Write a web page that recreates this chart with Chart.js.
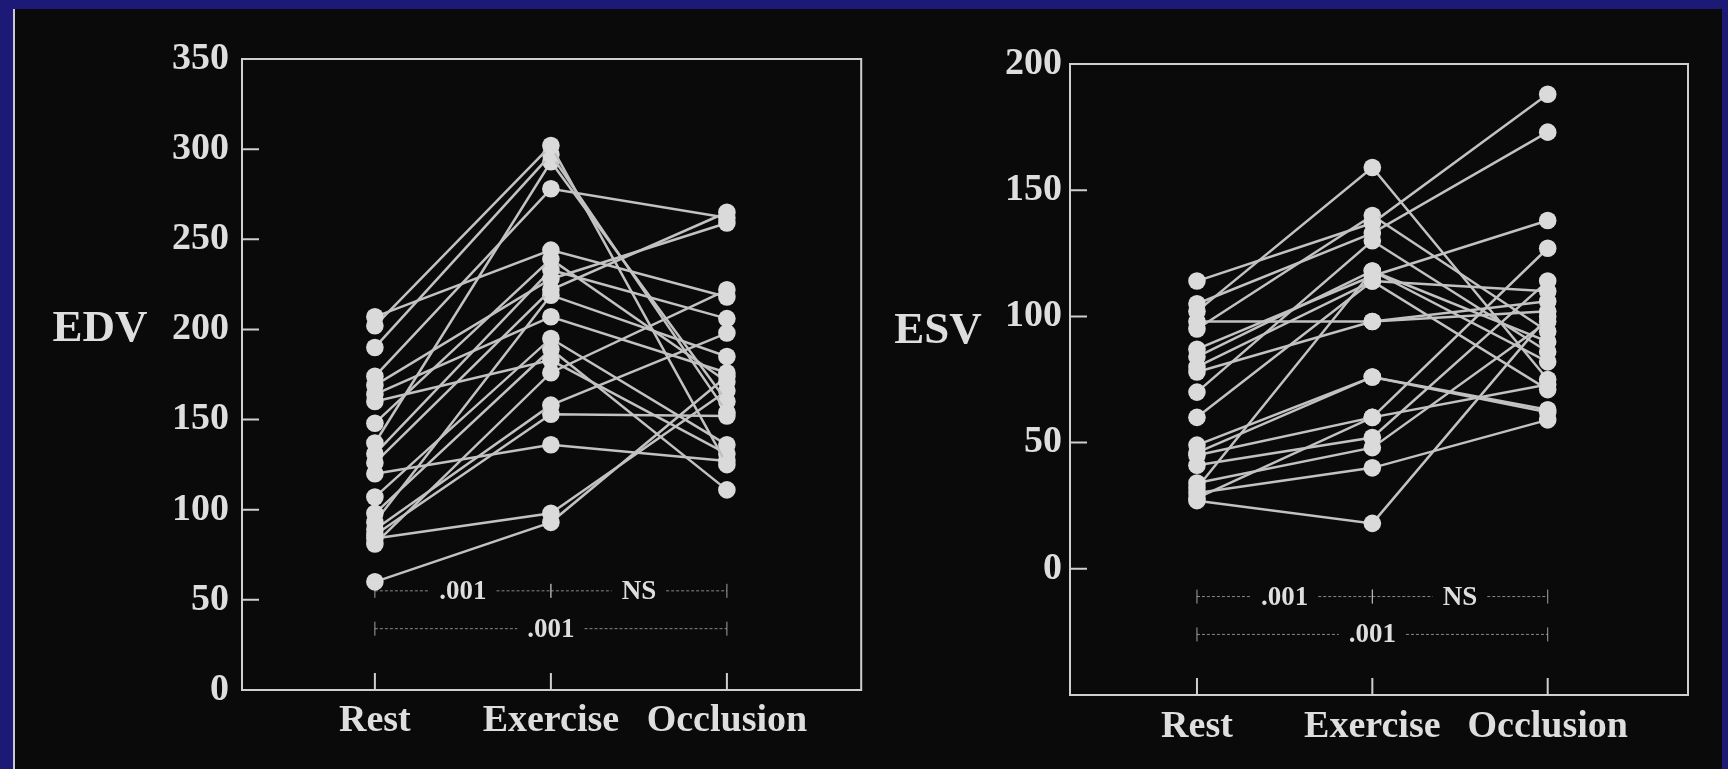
<!DOCTYPE html>
<html>
<head>
<meta charset="utf-8">
<script src="https://cdn.jsdelivr.net/npm/chart.js@4.4.1/dist/chart.umd.min.js"></script>
<style>
  html, body { margin: 0; padding: 0; background: #1c1a76; overflow: hidden; }
  #slide { position: absolute; left: 13px; top: 9px; width: 1707px; height: 760px; background: #0a0a0a; border-left: 2px solid #c9c9d4; }
  canvas { position: absolute; top: 0; }
  #edv-chart { left: 0; }
  #esv-chart { left: 870px; }
</style>
</head>
<body>
<div id="slide"></div>
<canvas id="edv-chart" width="870" height="769"></canvas>
<canvas id="esv-chart" width="858" height="769"></canvas>
<script>
const categories = ['Rest', 'Exercise', 'Occlusion'];

// EDV, one entry per patient
const edvTicks = [0, 50, 100, 150, 200, 250, 300, 350];
const edvRest =      [207, 202, 190, 174, 169, 164, 160, 148, 137, 131, 126, 120, 107, 98, 93, 89, 84, 81, 60, 86];
const edvExercise =  [244, 302, 297, 278, 228, 207, 183, 239, 293, 233, 222, 136, 195, 189, 219, 158, 98, 176, 93, 153];
const edvOcclusion = [218, 125, 154, 262, 259, 176, 131, 171, 160, 206, 265, 127, 136, 111, 185, 198, 166, 222, 174, 152];

// ESV, one entry per patient
const esvTicks = [0, 50, 100, 150, 200];
const esvRest =      [114, 105, 102, 98, 95, 87, 84, 80, 78, 70, 60, 49, 45, 41, 34, 30, 27, 28, 32, 46];
const esvExercise =  [137, 133, 159, 98, 140, 116, 118, 114, 98, 130, 114, 76, 60, 52, 48, 40, 18, 60, 118, 76];
const esvOcclusion = [188, 173, 75, 106, 94, 138, 90, 71, 102, 86, 110, 63, 127, 114, 98, 59, 100, 73, 82, 62];

// p values between conditions
const pTests = [
  { from: 0, to: 1, label: '.001', row: 0 },
  { from: 1, to: 2, label: 'NS', row: 0 },
  { from: 0, to: 2, label: '.001', row: 1 }
];

const TEXT = '#dedede';
const FRAME = '#cfcfcf';
const LINE = '#c2c2c2';
const DOT = '#dadada';
const SERIF = '"Liberation Serif", "DejaVu Serif", serif';

const framePlugin = {
  id: 'frame',
  beforeDatasetsDraw(chart, args, opts) {
    const { ctx, chartArea: a, scales: { x, y } } = chart;
    ctx.save();
    ctx.strokeStyle = FRAME;
    ctx.lineWidth = 2;
    ctx.strokeRect(a.left, a.top, a.right - a.left, a.bottom - a.top);

    // inward tick marks
    ctx.beginPath();
    for (const v of opts.innerTicks) {
      const py = y.getPixelForValue(v);
      ctx.moveTo(a.left, py);
      ctx.lineTo(a.left + 17, py);
    }
    categories.forEach((c, i) => {
      const px = x.getPixelForValue(i);
      ctx.moveTo(px, a.bottom);
      ctx.lineTo(px, a.bottom - 17);
    });
    ctx.stroke();

    // significance brackets
    ctx.font = 'bold 27px ' + SERIF;
    ctx.textAlign = 'center';
    ctx.textBaseline = 'middle';
    ctx.fillStyle = TEXT;
    for (const t of pTests) {
      const py = y.getPixelForValue(opts.rows[t.row]);
      const x0 = x.getPixelForValue(t.from);
      const x1 = x.getPixelForValue(t.to);
      const mid = (x0 + x1) / 2;
      const w = ctx.measureText(t.label).width / 2 + 10;
      ctx.strokeStyle = 'rgba(190,190,190,0.7)';
      ctx.lineWidth = 1;
      ctx.setLineDash([3, 2]);
      ctx.beginPath();
      ctx.moveTo(x0, py); ctx.lineTo(mid - w, py);
      ctx.moveTo(mid + w, py); ctx.lineTo(x1, py);
      ctx.stroke();
      ctx.setLineDash([]);
      ctx.strokeStyle = 'rgba(200,200,200,0.8)';
      ctx.beginPath();
      ctx.moveTo(x0, py - 7); ctx.lineTo(x0, py + 7);
      ctx.moveTo(x1, py - 7); ctx.lineTo(x1, py + 7);
      ctx.stroke();
      ctx.fillText(t.label, mid, py + 1);
    }

    // horizontal axis title
    ctx.font = 'bold 45px ' + SERIF;
    ctx.fillText(opts.title, opts.titleX, y.getPixelForValue(opts.titleAt));
    ctx.restore();
  }
};

function subjectLines(rest, exercise, occlusion) {
  return rest.map((r, i) => ({
    data: [{ x: 0, y: r }, { x: 1, y: exercise[i] }, { x: 2, y: occlusion[i] }],
    borderColor: LINE,
    borderWidth: 2.5,
    pointRadius: 8.8,
    pointBackgroundColor: DOT,
    pointBorderWidth: 0,
    tension: 0
  }));
}

function makeChart(canvasId, datasets, cfg) {
  return new Chart(document.getElementById(canvasId), {
    type: 'line',
    data: { datasets },
    plugins: [framePlugin],
    options: {
      responsive: false,
      animation: false,
      devicePixelRatio: 1,
      clip: false,
      layout: { padding: { left: 0, right: cfg.padRight, top: cfg.padTop, bottom: 0 } },
      plugins: {
        legend: { display: false },
        tooltip: { enabled: false },
        frame: { innerTicks: cfg.innerTicks, rows: cfg.rows, title: cfg.title, titleX: cfg.titleX, titleAt: cfg.titleAt }
      },
      scales: {
        x: {
          type: 'linear',
          min: cfg.xMin,
          max: cfg.xMax,
          grid: { display: false, drawTicks: false },
          border: { display: false },
          afterBuildTicks: s => { s.ticks = categories.map((c, i) => ({ value: i })); },
          afterFit: s => { s.height = cfg.xHeight; },
          ticks: {
            autoSkip: false,
            maxRotation: 0,
            padding: cfg.xPad,
            color: TEXT,
            font: { family: SERIF, size: 38, weight: 'bold' },
            callback: v => categories[v]
          }
        },
        y: {
          min: cfg.yMin,
          max: cfg.yMax,
          grid: { display: false, drawTicks: false },
          border: { display: false },
          afterBuildTicks: s => { s.ticks = cfg.yTicks.map(v => ({ value: v })); },
          afterFit: s => { s.width = cfg.yWidth; },
          ticks: {
            padding: cfg.yPad,
            color: TEXT,
            font: { family: SERIF, size: 38, weight: 'bold' }
          }
        }
      }
    }
  });
}

makeChart('edv-chart', subjectLines(edvRest, edvExercise, edvOcclusion), {
  xMin: -0.755, xMax: 2.763, yMin: 0, yMax: 350, yTicks: edvTicks,
  innerTicks: [50, 100, 150, 200, 250, 300],
  rows: [55, 34],
  yWidth: 242, xHeight: 79, padRight: 8, padTop: 59, xPad: 8, yPad: 13,
  title: 'EDV', titleX: 100, titleAt: 200
});

makeChart('esv-chart', subjectLines(esvRest, esvExercise, esvOcclusion), {
  xMin: -0.724, xMax: 2.80, yMin: -50, yMax: 200, yTicks: esvTicks,
  innerTicks: [0, 50, 100, 150],
  rows: [-11, -26],
  yWidth: 200, xHeight: 74, padRight: 40, padTop: 64, xPad: 9, yPad: 8,
  title: 'ESV', titleX: 68, titleAt: 94
});
</script>
</body>
</html>
